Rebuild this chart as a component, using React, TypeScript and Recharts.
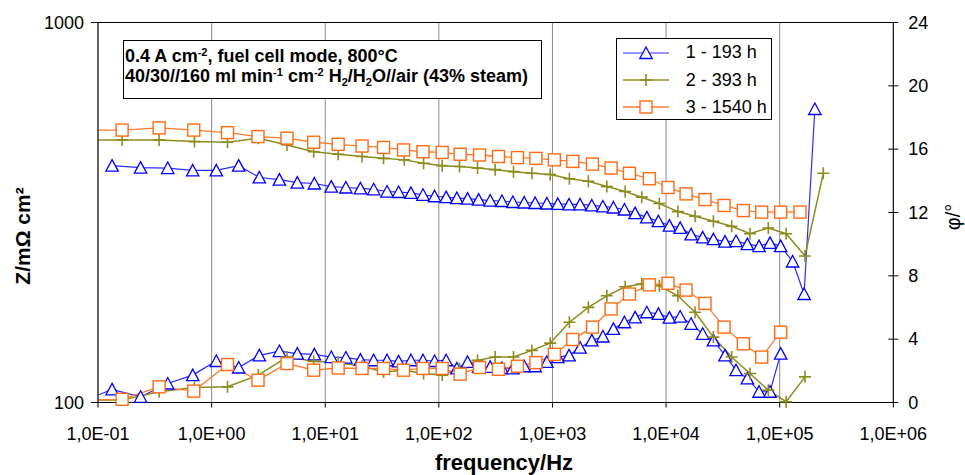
import { CartesianGrid, Line, LineChart, ReferenceLine, XAxis, YAxis } from "recharts";

const FONT = '"Liberation Sans", Arial, Helvetica, sans-serif';

// 1 - 193 h
const freq1 = [0.1, 0.133, 0.237, 0.411, 0.682, 1.1, 1.73, 2.63, 3.95, 5.68, 8.02, 11.3, 15.2, 20.4, 26.7, 35.0, 44.2, 56.8, 72.5, 91.7, 116, 144, 179, 224, 283, 359, 448, 564, 704, 893, 1115, 1400, 1750, 2220, 2780, 3440, 4300, 5340, 6770, 8560, 10700, 13300, 16600, 21000, 26100, 33000, 41300, 51900, 65800, 82200, 102000, 130000, 164000, 204000];
const z1 = [null, 420, 415, 414, 408, 408, 420, 391, 386, 379, 377, 370, 368, 366, 364, 359, 358, 356, 352, 349, 347, 345, 344, 342, 340, 339, 337, 336, 335, 334, 333, 332, 332, 330, 328, 326, 322, 315, 307, 300, 292, 288, 277, 272, 269, 265, 266, 261, 258, 263, 258, 235, 193, 592];
const phi1 = [0.47, 0.83, 0.36, 1.2, 1.73, 2.62, 2.21, 2.98, 3.25, 3.09, 3.04, 2.87, 2.84, 2.71, 2.67, 2.67, 2.6, 2.67, 2.67, 2.62, 2.67, 2.15, 2.56, 2.25, 2.25, 2.18, 2.15, 2.29, 2.29, 2.56, 2.87, 2.98, 3.46, 3.92, 4.17, 4.65, 5.07, 5.38, 5.7, 5.6, 5.36, 5.43, 4.97, 4.34, 3.92, 2.98, 2.04, 1.52, 0.68, 0.68, 3.09, null, null, null];

// 2 - 393 h
const freq2 = [0.1, 0.163, 0.345, 0.706, 1.38, 2.58, 4.61, 7.91, 13.0, 21.1, 32.6, 49.6, 73.4, 107, 152, 219, 313, 454, 659, 955, 1410, 2070, 3010, 4360, 6110, 8730, 12700, 18000, 26100, 37800, 54800, 79400, 114000, 167000, 242000];
const z2 = [491, 491, 491, 486, 484, 496, 476, 457, 450, 444, 439, 435, 426, 420, 418, 414, 410, 405, 401, 398, 388, 382, 370, 359, 347, 334, 318, 309, 300, 291, 278, 288, 278, 243, 401];
const phi2 = [0.16, 0.16, 0.68, 0.95, 0.99, 1.73, 2.87, 2.6, 2.52, 2.29, 1.93, 2.04, 1.83, 1.73, 2.15, 2.67, 2.87, 2.87, 3.29, 3.75, 5.07, 6.01, 6.74, 7.31, 7.48, 7.37, 6.74, 5.7, 4.13, 2.87, 1.83, 0.78, 0.05, 1.62, null];

// 3 - 1540 h
const freq3 = [0.1, 0.163, 0.345, 0.696, 1.38, 2.56, 4.61, 7.91, 13.0, 21.1, 32.6, 48.9, 72.5, 107, 154, 228, 335, 492, 715, 1040, 1510, 2250, 3280, 4760, 7130, 10400, 15000, 22000, 32400, 47900, 69500, 102000, 151000];
const z3 = [521, 521, 528, 521, 513, 501, 496, 484, 478, 473, 469, 462, 457, 455, 450, 448, 444, 441, 439, 435, 431, 424, 414, 401, 388, 368, 354, 342, 330, 320, 317, 317, 317];
const phi3 = [0.15, 0.2, 0.99, 0.72, 2.4, 1.41, 2.46, 2.04, 2.18, 2.15, 2.15, 2.04, 2.15, 2.15, 1.79, 2.21, 2.1, 2.29, 2.52, 3.04, 3.98, 4.76, 5.91, 6.85, 7.43, 7.53, 7.1, 6.26, 4.76, 3.71, 2.87, 4.44, null];

const xTicks = [0.1, 1, 10, 100, 1000, 10000, 100000, 1000000];
const zTicks = [100, 1000];
const phiTicks = [0, 4, 8, 12, 16, 20, 24];

type Kind = "triangle" | "plus" | "square";

const toRows = (freq: number[], z: (number | null)[], phi: (number | null)[]) =>
  freq.map((f, i) => ({ f, z: z[i], phi: phi[i] }));

const series = [
  { name: "1 - 193 h", color: "#0000FF", line: "#2B2BFF", width: 1.2, kind: "triangle" as Kind, rows: toRows(freq1, z1, phi1) },
  { name: "2 - 393 h", color: "#8C8C1E", line: "#8C8C1E", width: 1.5, kind: "plus" as Kind, rows: toRows(freq2, z2, phi2) },
  { name: "3 - 1540 h", color: "#FF6A13", line: "#FF7A30", width: 1.3, kind: "square" as Kind, rows: toRows(freq3, z3, phi3) },
];

const sci = (v: number) => {
  const e = Math.round(Math.log10(v));
  return `1,0E${e < 0 ? "-" : "+"}${String(Math.abs(e)).padStart(2, "0")}`;
};

function Marker({ kind, color, cx, cy }: { kind: Kind; color: string; cx: number; cy: number }) {
  if (kind === "triangle") {
    return <path d={`M${cx},${cy - 6}L${cx + 6.2},${cy + 5.5}L${cx - 6.2},${cy + 5.5}Z`} fill="#fff" stroke={color} strokeWidth={1.3} />;
  }
  if (kind === "plus") {
    return <path d={`M${cx - 6},${cy}H${cx + 6}M${cx},${cy - 6}V${cy + 6}`} stroke={color} strokeWidth={1.6} fill="none" />;
  }
  return <rect x={cx - 6} y={cy - 6} width={12} height={12} fill="#fff" stroke={color} strokeWidth={1.4} />;
}

// the first row of each run only carries the line in to the axis, no marker there
const markerDot = (kind: Kind, color: string) => (props: any) => {
  const { cx, cy, payload, index } = props;
  if (cx == null || cy == null || payload?.f <= 0.1) return <g key={`d-${index}`} />;
  return <Marker key={`d-${index}`} kind={kind} color={color} cx={cx} cy={cy} />;
};

function PhiTick(props: any) {
  const { x, y, payload } = props;
  return (
    <g>
      <line x1={x - 20} x2={x - 15} y1={y} y2={y} stroke="#000" />
      <text x={x} y={y} dy="0.35em" fontSize={18} fill="#000" fontFamily={FONT}>
        {payload.value}
      </text>
    </g>
  );
}

const sup = { fontSize: 11, position: "relative" as const, top: -6, lineHeight: 0 };
const sub = { fontSize: 11, position: "relative" as const, top: 4, lineHeight: 0 };

export default function App() {
  return (
    <div style={{ position: "absolute", left: 0, top: 0, width: 965, height: 475, background: "#fff", fontFamily: FONT, color: "#000" }}>
      <LineChart width={965} height={475} margin={{ top: 22.5, right: 0, bottom: 0, left: 0 }}>
        <CartesianGrid yAxisId="left" horizontal={false} stroke="#8c8c8c" />
        <XAxis
          dataKey="f"
          type="number"
          scale="log"
          domain={[0.1, 1000000]}
          allowDataOverflow
          ticks={xTicks}
          interval={0}
          tickFormatter={sci}
          height={72.5}
          tickSize={5}
          tickMargin={20}
          tick={{ fontSize: 18, fill: "#000" }}
          stroke="#000"
        />
        <YAxis
          yAxisId="left"
          type="number"
          scale="log"
          domain={[100, 1000]}
          allowDataOverflow
          ticks={zTicks}
          interval={0}
          width={98}
          tickSize={7}
          tickMargin={7}
          tick={{ fontSize: 18, fill: "#000" }}
          stroke="#000"
        />
        <YAxis
          yAxisId="right"
          orientation="right"
          type="number"
          domain={[0, 24]}
          ticks={phiTicks}
          interval={0}
          width={71.7}
          tickSize={5}
          tickMargin={10}
          tick={<PhiTick />}
          stroke="#000"
        />
        <ReferenceLine yAxisId="left" y={1000} stroke="#000" />
        {series.map((s) => (
          <Line
            key={`z-${s.name}`}
            data={s.rows}
            dataKey="z"
            yAxisId="left"
            type="linear"
            stroke={s.line}
            strokeWidth={s.width}
            dot={markerDot(s.kind, s.color)}
            activeDot={false}
            isAnimationActive={false}
          />
        ))}
        {series.map((s) => (
          <Line
            key={`phi-${s.name}`}
            data={s.rows}
            dataKey="phi"
            yAxisId="right"
            type="linear"
            stroke={s.line}
            strokeWidth={s.width}
            dot={markerDot(s.kind, s.color)}
            activeDot={false}
            isAnimationActive={false}
          />
        ))}
      </LineChart>

      {/* operating conditions */}
      <div style={{ position: "absolute", left: 122.5, top: 40, width: 417, height: 57, border: "1.5px solid #000", background: "#fff", fontWeight: "bold", fontSize: 18, whiteSpace: "nowrap" }}>
        <div style={{ position: "absolute", left: 1.5, top: 6, lineHeight: "19px" }}>
          0.4 A cm<span style={sup}>-2</span>, fuel cell mode, 800°C
        </div>
        <div style={{ position: "absolute", left: 1.5, top: 26, lineHeight: "19px" }}>
          40/30//160 ml min<span style={sup}>-1</span> cm<span style={sup}>-2</span> H<span style={sub}>2</span>/H<span style={sub}>2</span>O//air (43% steam)
        </div>
      </div>

      {/* legend */}
      <div style={{ position: "absolute", left: 616, top: 38, width: 154, height: 80, border: "1px solid #000", background: "#fff", fontSize: 18 }}>
        {series.map((s, i) => (
          <div key={s.name} style={{ position: "absolute", left: 0, top: 3.7 + i * 27.3, height: 20, display: "flex", alignItems: "center", whiteSpace: "nowrap" }}>
            <svg width={52} height={20} style={{ marginLeft: 5.7 }}>
              <line x1={0} x2={46} y1={10} y2={10} stroke={s.line} strokeWidth={s.width} />
              <Marker kind={s.kind} color={s.color} cx={23} cy={10} />
            </svg>
            <span style={{ marginLeft: 11 }}>{s.name}</span>
          </div>
        ))}
      </div>

      {/* axis titles */}
      <div style={{ position: "absolute", left: 22.5, top: 236, transform: "translate(-50%, -50%) rotate(-90deg)", fontWeight: "bold", fontSize: 21, whiteSpace: "nowrap" }}>
        Z/mΩ cm²
      </div>
      <div style={{ position: "absolute", left: 953, top: 217, transform: "translate(-50%, -50%) rotate(-90deg)", fontSize: 20, whiteSpace: "nowrap" }}>
        φ/°
      </div>
      <div style={{ position: "absolute", left: 504, top: 452, transform: "translateX(-50%)", fontWeight: "bold", fontSize: 22, lineHeight: "22px", whiteSpace: "nowrap" }}>
        frequency/Hz
      </div>
    </div>
  );
}
